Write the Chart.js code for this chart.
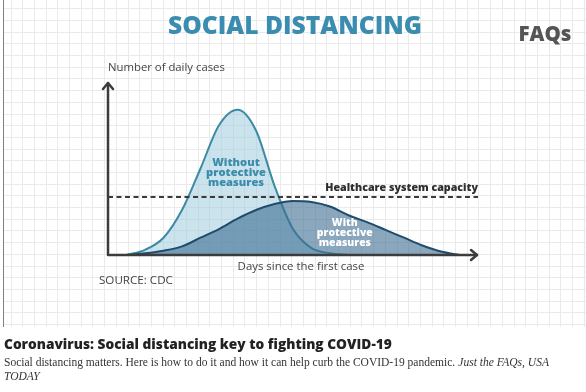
<!doctype html>
<html lang="en">

<head>
  <meta charset="UTF-8">
  <title>Social Distancing</title>
  <style>
    html,
    body {
      margin: 0;
      padding: 0;
      background-color: #fff;
    }
  </style>
</head>

<body>
  <canvas id="datavis" width="586" height="392"></canvas>

  <script src="https://cdn.jsdelivr.net/npm/chart.js@4/dist/chart.umd.min.js"></script>

  <script>

    // values, cases in % of the axis height
    const days = [0, 5, 10, 15, 20, 25, 30, 35, 40, 45, 50, 55, 60, 65, 70, 75, 80, 85, 90, 95, 100];
    const withoutMeasures = [null, 0, 3, 10, 26, 50, 75, 84, 72, 40, 15, 4, 1, 0, null, null, null, null, null, null, null];
    const withMeasures = [null, 0, 1, 2.5, 5, 10, 15, 21, 26, 29.5, 31.2, 30.6, 28, 23, 19, 14.5, 10, 5.5, 2, 0, null];
    const capacity = 33.5;

    const title = 'SOCIAL DISTANCING';
    const brand = 'FAQs';
    const yLabel = 'Number of daily cases';
    const xLabel = 'Days since the first case';
    const source = 'SOURCE: CDC';
    const capacityLabel = 'Healthcare system capacity';
    const withoutLabel = ['Without', 'protective', 'measures'];
    const withLabel = ['With', 'protective', 'measures'];
    const caption = 'Coronavirus: Social distancing key to fighting COVID-19';
    const description = 'Social distancing matters. Here is how to do it and how it can help curb the COVID-19 pandemic. ';
    const credit = ['Just the FAQs, USA', 'TODAY'];

    // size a font so the text spans the given width
    function fit(ctx, text, style, family, width) {
      ctx.font = style + ' 100px ' + family;
      return 100 * width / ctx.measureText(text).width;
    }

    function arrow(ctx, x, y, dx, dy) {
      ctx.beginPath();
      ctx.moveTo(x - dx * 6 - dy * 5, y - dy * 6 - dx * 5);
      ctx.lineTo(x, y);
      ctx.lineTo(x - dx * 6 + dy * 5, y - dy * 6 + dx * 5);
      ctx.stroke();
    }

    const backdrop = {
      id: 'backdrop',
      beforeDraw(chart) {
        const ctx = chart.ctx;
        ctx.save();
        ctx.fillStyle = '#fff';
        ctx.fillRect(0, 0, chart.width, chart.height);
        // squared paper
        ctx.strokeStyle = '#eaeaea';
        ctx.lineWidth = 1;
        ctx.beginPath();
        for (let x = 10.5; x < chart.width; x += 11.7) {
          ctx.moveTo(Math.round(x) + 0.5, 0);
          ctx.lineTo(Math.round(x) + 0.5, 327);
        }
        for (let y = 8.2; y < 327; y += 11.7) {
          ctx.moveTo(3, Math.round(y) + 0.5);
          ctx.lineTo(chart.width, Math.round(y) + 0.5);
        }
        ctx.stroke();
        ctx.strokeStyle = '#808080';
        ctx.beginPath();
        ctx.moveTo(3.5, 0);
        ctx.lineTo(3.5, 327);
        ctx.stroke();

        ctx.textBaseline = 'middle';
        ctx.fillStyle = '#3a8db0';
        ctx.textAlign = 'center';
        let size = fit(ctx, title, '800', '"Open Sans"', 254);
        ctx.font = '800 ' + size + 'px "Open Sans"';
        ctx.fillText(title, 295, 27);

        ctx.fillStyle = '#555';
        size = fit(ctx, brand, '800', '"Open Sans"', 53);
        ctx.font = '800 ' + size + 'px "Open Sans"';
        ctx.fillText(brand, 545, 35);

        ctx.textAlign = 'left';
        ctx.fillStyle = '#222';
        size = fit(ctx, caption, '800', '"Open Sans"', 388);
        ctx.font = '800 ' + size + 'px "Open Sans"';
        ctx.fillText(caption, 4, 345);

        ctx.fillStyle = '#333';
        ctx.font = '100px "Liberation Serif"';
        const w1 = ctx.measureText(description).width;
        ctx.font = 'italic 100px "Liberation Serif"';
        const w2 = ctx.measureText(credit[0]).width;
        size = 100 * 545 / (w1 + w2);
        ctx.font = size + 'px "Liberation Serif"';
        ctx.fillText(description, 4, 363);
        ctx.font = 'italic ' + size + 'px "Liberation Serif"';
        ctx.fillText(credit[0], 4 + w1 * size / 100, 363);
        ctx.fillText(credit[1], 4, 377);
        ctx.restore();
      },
      afterDraw(chart) {
        const ctx = chart.ctx;
        const xs = chart.scales.x;
        const ys = chart.scales.y;
        const a = chart.chartArea;
        ctx.save();
        // axes with arrow heads
        ctx.strokeStyle = '#3c3c3c';
        ctx.lineWidth = 2.5;
        ctx.lineCap = 'round';
        ctx.lineJoin = 'round';
        ctx.beginPath();
        ctx.moveTo(a.left, a.top + 1);
        ctx.lineTo(a.left, a.bottom);
        ctx.lineTo(a.right - 1, a.bottom);
        ctx.stroke();
        arrow(ctx, a.left, a.top + 1, 0, -1);
        arrow(ctx, a.right - 1, a.bottom, 1, 0);

        ctx.textBaseline = 'middle';
        ctx.fillStyle = '#444';
        ctx.textAlign = 'left';
        let size = fit(ctx, yLabel, '500', '"Open Sans"', 117);
        ctx.font = '500 ' + size + 'px "Open Sans"';
        ctx.fillText(yLabel, a.left, 68);
        size = fit(ctx, source, '500', '"Open Sans"', 74);
        ctx.font = '500 ' + size + 'px "Open Sans"';
        ctx.fillText(source, 99, 281);
        ctx.textAlign = 'center';
        size = fit(ctx, xLabel, '500', '"Open Sans"', 127);
        ctx.font = '500 ' + size + 'px "Open Sans"';
        ctx.fillText(xLabel, 301, 267);

        ctx.fillStyle = '#2e2e2e';
        ctx.textAlign = 'right';
        size = fit(ctx, capacityLabel, '800', '"Open Sans"', 153);
        ctx.font = '800 ' + size + 'px "Open Sans"';
        ctx.fillText(capacityLabel, a.right, ys.getPixelForValue(capacity) - 9);

        ctx.textAlign = 'center';
        ctx.fillStyle = '#3b8cab';
        size = fit(ctx, withoutLabel[1], '800', '"Open Sans"', 60);
        ctx.font = '800 ' + size + 'px "Open Sans"';
        withoutLabel.forEach(function (t, i) {
          ctx.fillText(t, xs.getPixelForValue(34.6), ys.getPixelForValue(53.5) + i * 10);
        });
        ctx.fillStyle = '#fff';
        size = fit(ctx, withLabel[1], '800', '"Open Sans"', 56);
        ctx.font = '800 ' + size + 'px "Open Sans"';
        withLabel.forEach(function (t, i) {
          ctx.fillText(t, xs.getPixelForValue(64), ys.getPixelForValue(18.5) + i * 10);
        });
        ctx.restore();
      }
    };

    const points = (values) => days.map((d, i) => ({ x: d, y: values[i] }));

    new Chart('datavis', {
      type: 'line',
      data: {
        datasets: [{
          label: capacityLabel,
          data: days.map(d => ({ x: d, y: capacity })),
          borderColor: '#3a3a3a',
          borderWidth: 2,
          borderDash: [5, 3.5],
          pointRadius: 0,
          fill: false
        }, {
          label: 'With protective measures',
          data: points(withMeasures),
          borderColor: '#1f4c6b',
          backgroundColor: 'rgba(60, 108, 145, 0.6)',
          borderWidth: 2,
          pointRadius: 0,
          cubicInterpolationMode: 'monotone',
          fill: 'origin'
        }, {
          label: 'Without protective measures',
          data: points(withoutMeasures),
          borderColor: '#3d8aa5',
          backgroundColor: 'rgba(150, 200, 220, 0.5)',
          borderWidth: 2,
          pointRadius: 0,
          cubicInterpolationMode: 'monotone',
          fill: 'origin'
        }]
      },
      options: {
        responsive: false,
        animation: false,
        layout: { padding: { left: 108, right: 108, top: 82, bottom: 137 } },
        scales: {
          x: { type: 'linear', min: 0, max: 100, display: false },
          y: { min: 0, max: 100, display: false }
        },
        plugins: {
          legend: { display: false },
          tooltip: { enabled: false }
        }
      },
      plugins: [backdrop]
    });
  </script>
</body>

</html>
